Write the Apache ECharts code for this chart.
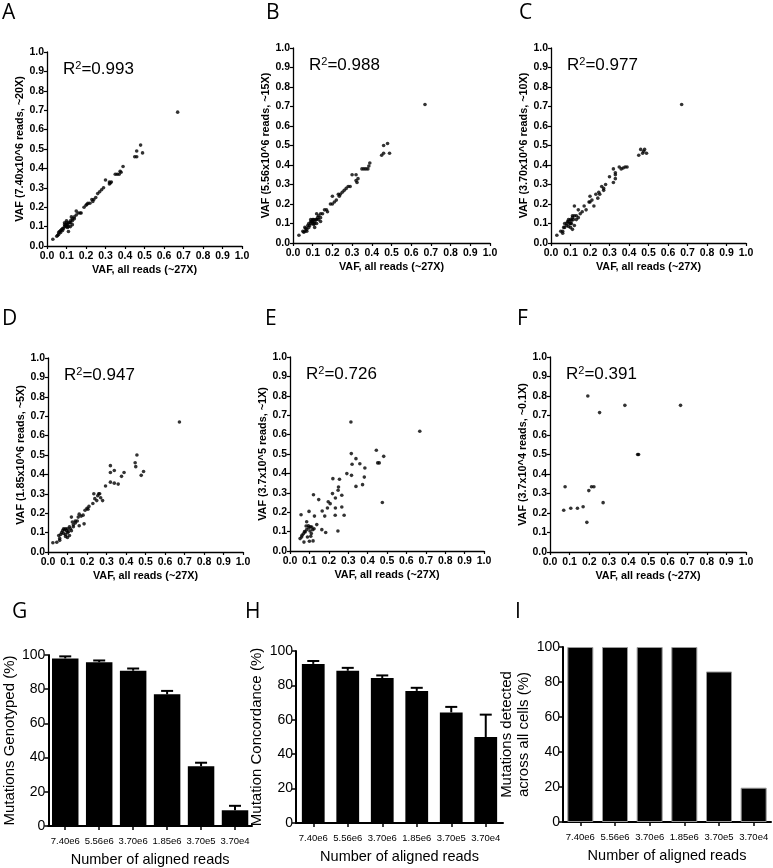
<!DOCTYPE html>
<html>
<head>
<meta charset="utf-8">
<script src="https://cdn.jsdelivr.net/npm/echarts@6/dist/echarts.min.js"></script>
<style>html,body{margin:0;padding:0;background:#fff}#c{width:773px;height:868px}</style>
</head>
<body>
<div id="c"></div>
<script>
// ---------- DATA ----------
const vafTicks = ['0.0','0.1','0.2','0.3','0.4','0.5','0.6','0.7','0.8','0.9','1.0'];
const xTitle = 'VAF, all reads (~27X)';
const yTitles = [
  'VAF (7.40x10^6 reads, ~20X)',
  'VAF (5.56x10^6 reads, ~15X)',
  'VAF (3.70x10^6 reads, ~10X)',
  'VAF (1.85x10^6 reads, ~5X)',
  'VAF (3.7x10^5 reads, ~1X)',
  'VAF (3.7x10^4 reads, ~0.1X)'
];
const rSquared = ['0.993','0.988','0.977','0.947','0.726','0.391'];

const scatterA = [[0.67,0.69],[0.45,0.46],[0.46,0.46],[0.46,0.49],[0.48,0.52],[0.49,0.48],
[0.39,0.41],[0.38,0.38],[0.375,0.385],[0.35,0.37],[0.36,0.37],[0.37,0.37],
[0.30,0.34],[0.32,0.32],[0.32,0.33],[0.33,0.33],[0.325,0.325],
[0.29,0.30],[0.28,0.29],[0.27,0.28],[0.26,0.27],[0.25,0.25],[0.24,0.24],[0.23,0.24],[0.235,0.23],[0.22,0.22],[0.21,0.22],[0.20,0.21],[0.205,0.215],[0.19,0.20],[0.175,0.17],[0.17,0.17],[0.16,0.17],[0.15,0.18],[0.15,0.16],[0.14,0.15],[0.14,0.14],[0.13,0.14],[0.13,0.13],[0.125,0.15],[0.12,0.12],[0.12,0.13],[0.115,0.12],[0.11,0.12],[0.11,0.075],[0.105,0.11],[0.10,0.12],[0.10,0.11],[0.10,0.10],[0.095,0.105],[0.09,0.11],[0.09,0.10],[0.085,0.09],[0.08,0.09],[0.08,0.08],[0.075,0.085],[0.07,0.07],[0.07,0.08],[0.065,0.075],[0.06,0.07],[0.06,0.06],[0.055,0.055],[0.05,0.05],[0.03,0.035],[0.12,0.10],[0.13,0.11],[0.11,0.10],[0.10,0.13],[0.09,0.12],[0.105,0.095]];

const scatterB = [[0.67,0.71],[0.45,0.45],[0.46,0.50],[0.46,0.46],[0.48,0.51],[0.49,0.46],
[0.39,0.41],[0.385,0.395],[0.38,0.38],[0.36,0.38],[0.35,0.38],[0.37,0.38],
[0.30,0.35],[0.32,0.35],[0.32,0.32],[0.325,0.31],[0.33,0.33],
[0.29,0.29],[0.28,0.29],[0.27,0.28],[0.26,0.27],[0.25,0.26],[0.24,0.25],[0.23,0.25],[0.235,0.24],[0.22,0.22],[0.21,0.21],[0.20,0.20],[0.20,0.24],[0.19,0.20],[0.175,0.16],[0.17,0.17],[0.16,0.17],[0.14,0.15],[0.15,0.15],[0.13,0.14],[0.14,0.13],[0.12,0.15],[0.125,0.13],[0.12,0.12],[0.115,0.12],[0.11,0.11],[0.11,0.08],[0.105,0.12],[0.10,0.11],[0.10,0.10],[0.095,0.11],[0.09,0.11],[0.09,0.10],[0.085,0.09],[0.08,0.10],[0.08,0.08],[0.075,0.09],[0.07,0.07],[0.07,0.06],[0.065,0.075],[0.06,0.08],[0.06,0.06],[0.055,0.055],[0.05,0.06],[0.03,0.04],[0.12,0.10],[0.13,0.12],[0.11,0.10],[0.10,0.12],[0.09,0.12],[0.105,0.095],[0.14,0.11]];

const scatterC = [[0.67,0.71],[0.45,0.45],[0.46,0.48],[0.47,0.46],[0.48,0.48],[0.49,0.46],[0.475,0.47],
[0.39,0.39],[0.38,0.39],[0.36,0.38],[0.35,0.39],[0.37,0.385],[0.33,0.36],[0.32,0.38],[0.32,0.31],[0.33,0.33],[0.30,0.34],[0.33,0.35],
[0.28,0.30],[0.27,0.28],[0.26,0.29],[0.27,0.27],[0.25,0.25],[0.245,0.26],[0.24,0.23],[0.23,0.25],[0.22,0.19],[0.21,0.22],[0.20,0.24],[0.195,0.21],[0.20,0.21],[0.18,0.17],[0.17,0.19],[0.16,0.16],[0.15,0.15],[0.14,0.17],[0.14,0.13],[0.12,0.19],[0.13,0.14],[0.12,0.14],[0.11,0.13],[0.115,0.12],[0.10,0.10],[0.10,0.12],[0.105,0.115],[0.09,0.11],[0.09,0.12],[0.095,0.10],[0.08,0.10],[0.08,0.09],[0.085,0.11],[0.07,0.08],[0.07,0.10],[0.06,0.06],[0.06,0.05],[0.065,0.08],[0.05,0.06],[0.03,0.04],[0.11,0.07],[0.12,0.09],[0.10,0.08],[0.13,0.12],[0.11,0.14],[0.09,0.085],[0.105,0.10]];

const scatterD = [[0.674,0.67],[0.447,0.46],[0.45,0.44],[0.456,0.50],[0.478,0.395],[0.49,0.415],
[0.32,0.445],[0.32,0.41],[0.34,0.42],[0.32,0.36],[0.34,0.355],[0.36,0.35],[0.377,0.39],[0.39,0.41],[0.295,0.34],
[0.26,0.30],[0.255,0.29],[0.235,0.30],[0.24,0.275],[0.25,0.265],[0.23,0.25],[0.28,0.265],[0.27,0.28],[0.265,0.30],
[0.20,0.225],[0.21,0.235],[0.19,0.215],[0.205,0.22],[0.16,0.195],[0.155,0.18],[0.185,0.145],[0.16,0.135],[0.14,0.16],[0.12,0.18],[0.125,0.155],[0.11,0.13],[0.13,0.14],[0.09,0.12],[0.10,0.10],[0.08,0.095],[0.075,0.11],[0.055,0.085],[0.06,0.06],[0.045,0.05],[0.025,0.048],[0.09,0.08],[0.11,0.085],[0.10,0.12],[0.095,0.11],[0.085,0.115],[0.07,0.10],[0.06,0.07],[0.105,0.105],[0.115,0.12],[0.12,0.11],[0.13,0.13],[0.14,0.15],[0.15,0.16],[0.08,0.12],[0.09,0.09],[0.10,0.075],[0.065,0.09],[0.17,0.185],[0.18,0.19]];

const scatterE = [[0.314,0.665],[0.669,0.617],[0.445,0.519],[0.316,0.502],[0.34,0.476],[0.483,0.488],[0.452,0.454],[0.46,0.454],[0.32,0.447],[0.36,0.45],[0.386,0.428],[0.293,0.399],[0.317,0.39],[0.383,0.381],[0.34,0.333],[0.374,0.342],[0.476,0.25],
[0.221,0.373],[0.255,0.37],[0.25,0.33],[0.248,0.313],[0.219,0.296],[0.234,0.273],[0.267,0.287],[0.197,0.254],[0.207,0.244],[0.234,0.222],[0.267,0.227],[0.193,0.222],[0.166,0.206],[0.148,0.265],[0.121,0.29],[0.233,0.184],[0.279,0.184],[0.179,0.18],[0.247,0.103],[0.184,0.095],[0.164,0.11],[0.126,0.18],[0.098,0.204],[0.057,0.187],[0.138,0.136],[0.112,0.124],[0.086,0.151],[0.083,0.129],[0.097,0.119],[0.103,0.103],[0.117,0.11],[0.124,0.115],[0.078,0.098],[0.069,0.089],[0.062,0.081],[0.052,0.064],[0.06,0.072],[0.072,0.046],[0.10,0.05],[0.119,0.052],[0.09,0.072],[0.107,0.076],[0.086,0.11],[0.095,0.13],[0.105,0.125],[0.075,0.1],[0.11,0.09]];

const scatterF = [[0.193,0.80],[0.382,0.752],[0.666,0.752],[0.253,0.715],[0.447,0.50],[0.452,0.50],[0.077,0.335],[0.212,0.335],[0.224,0.335],[0.198,0.315],[0.271,0.253],[0.169,0.232],[0.106,0.224],[0.14,0.224],[0.07,0.214],[0.188,0.152]];

const readCategories = ['7.40e6','5.56e6','3.70e6','1.85e6','3.70e5','3.70e4'];
const genotypedMean = [98, 95.8, 90.8, 77, 35, 9.2];
const genotypedUpper = [99.2, 96.8, 92.1, 79, 37, 11.8];
const concordanceMean = [92.5, 88.5, 84.3, 76.8, 64.3, 50];
const concordanceUpper = [94.2, 90.2, 85.8, 78.6, 67.5, 63];
const detectedAll = [100, 100, 100, 100, 86, 19.6];
const barYTitles = ['Mutations Genotyped (%)', 'Mutation Concordance (%)', 'Mutations detected\nacross all cells (%)'];
const barXTitle = 'Number of aligned reads';
const panelLetters = ['A','B','C','D','E','F','G','H','I'];

// ---------- LAYOUT ----------
const FONT = "'Liberation Sans', Arial, sans-serif";
const scatterGrids = [
  {left:47, top:52, width:195, height:194},
  {left:293, top:48, width:197, height:195},
  {left:551, top:48, width:195, height:195},
  {left:48, top:358, width:195, height:194},
  {left:290, top:357, width:194, height:194},
  {left:550, top:357, width:196, height:195}
];
const barGrids = [
  {left:40, top:655, width:212, height:171},
  {left:296, top:651, width:207, height:172},
  {left:563, top:647, width:208, height:175}
];
const scatterSets = [scatterA, scatterB, scatterC, scatterD, scatterE, scatterF];

const grid = [], xAxis = [], yAxis = [], series = [], graphic = [];

scatterGrids.forEach((g, i) => {
  grid.push(Object.assign({containLabel:false}, g));
  const axisCommon = {
    type:'value', min:0, max:1, interval:0.1, gridIndex:i,
    axisLine:{show:true, onZero:false, lineStyle:{color:'#000', width:1.3}},
    axisTick:{show:true, length:3, lineStyle:{color:'#000', width:1.2}},
    splitLine:{show:false},
    axisLabel:{color:'#000', fontFamily:FONT, fontWeight:'bold', fontSize:10.5, formatter:(v)=>vafTicks[Math.round(v*10)]},
    nameLocation:'middle',
    nameTextStyle:{color:'#000', fontFamily:FONT, fontWeight:'bold', fontSize:10.8}
  };
  xAxis.push(Object.assign({}, axisCommon, {name:xTitle, nameGap:19, axisLabel:Object.assign({}, axisCommon.axisLabel, {margin:5})}));
  yAxis.push(Object.assign({}, axisCommon, {name:yTitles[i], nameGap:20, axisLabel:Object.assign({}, axisCommon.axisLabel, {margin:3})}));
  series.push({
    type:'scatter', xAxisIndex:i, yAxisIndex:i, data:scatterSets[i],
    symbol:'circle', symbolSize:3.6, itemStyle:{color:'#000'}, silent:true
  });
  graphic.push({
    type:'text', left:g.left + 16, top:g.top + 8,
    style:{
      text:'R{sup|2}=' + rSquared[i],
      fill:'#000', font:'17px ' + FONT,
      rich:{sup:{fontSize:11, fontFamily:FONT, verticalAlign:'top', padding:[0,0,7,0], fill:'#000'}}
    }
  });
});

const barNameGaps = [23, 24, 19];
const barMeans = [genotypedMean, concordanceMean, detectedAll];
const barUppers = [genotypedUpper, concordanceUpper, null];
const barWidths = ['78%', '66%', '75%'];

barGrids.forEach((g, j) => {
  const gi = 6 + j;
  grid.push(Object.assign({containLabel:false}, g));
  xAxis.push({
    type:'category', gridIndex:gi, data:readCategories,
    axisLine:{show:true, lineStyle:{color:'#000', width:2}},
    axisTick:{show:true, alignWithLabel:true, length:4, lineStyle:{color:'#000', width:1.5}},
    axisLabel:{color:'#000', fontFamily:FONT, fontSize:9.5, margin:10, interval:0},
    name:barXTitle, nameLocation:'middle', nameGap:26,
    nameTextStyle:{color:'#000', fontFamily:FONT, fontSize:14.5}
  });
  yAxis.push({
    type:'value', gridIndex:gi, min:0, max:100, interval:20,
    axisLine:{show:true, lineStyle:{color:'#000', width:2}},
    axisTick:{show:true, length:4, lineStyle:{color:'#000', width:1.5}},
    splitLine:{show:false},
    axisLabel:{color:'#000', fontFamily:FONT, fontSize:14, margin:3},
    name:barYTitles[j], nameLocation:'middle', nameGap:barNameGaps[j],
    nameTextStyle:{color:'#000', fontFamily:FONT, fontSize:15, lineHeight:17}
  });
  series.push({
    type:'bar', xAxisIndex:gi, yAxisIndex:gi, data:barMeans[j], barWidth:barWidths[j],
    itemStyle:{color:'#000', borderColor: j===2 ? '#999' : '#000', borderWidth: j===2 ? 1 : 0},
    silent:true
  });
  if (barUppers[j]) {
    const means = barMeans[j], ups = barUppers[j];
    series.push({
      type:'custom', xAxisIndex:gi, yAxisIndex:gi, silent:true,
      data: readCategories.map((c, k) => [k, means[k], ups[k]]),
      renderItem:(params, api) => {
        const x = api.value(0);
        const p0 = api.coord([x, api.value(1)]);
        const p1 = api.coord([x, api.value(2)]);
        const half = 6;
        return {type:'group', children:[
          {type:'line', shape:{x1:p0[0], y1:p0[1], x2:p1[0], y2:p1[1]}, style:{stroke:'#000', lineWidth:2}},
          {type:'line', shape:{x1:p1[0]-half, y1:p1[1], x2:p1[0]+half, y2:p1[1]}, style:{stroke:'#000', lineWidth:2}}
        ]};
      },
      z:3
    });
  }
});

const letterPos = [[2,3],[266,3],[519,3],[2,309],[265,309],[517,309],[12,602],[245,602],[515,602]];
panelLetters.forEach((L, i) => {
  graphic.push({type:'text', left:letterPos[i][0], top:letterPos[i][1],
    style:{text:L, fill:'#000', font:"21px 'Open Sans', " + FONT}});
});

const chart = echarts.init(document.getElementById('c'), null, {renderer:'canvas'});
chart.setOption({
  animation:false, backgroundColor:'#fff',
  grid, xAxis, yAxis, series, graphic
});
</script>
</body>
</html>
